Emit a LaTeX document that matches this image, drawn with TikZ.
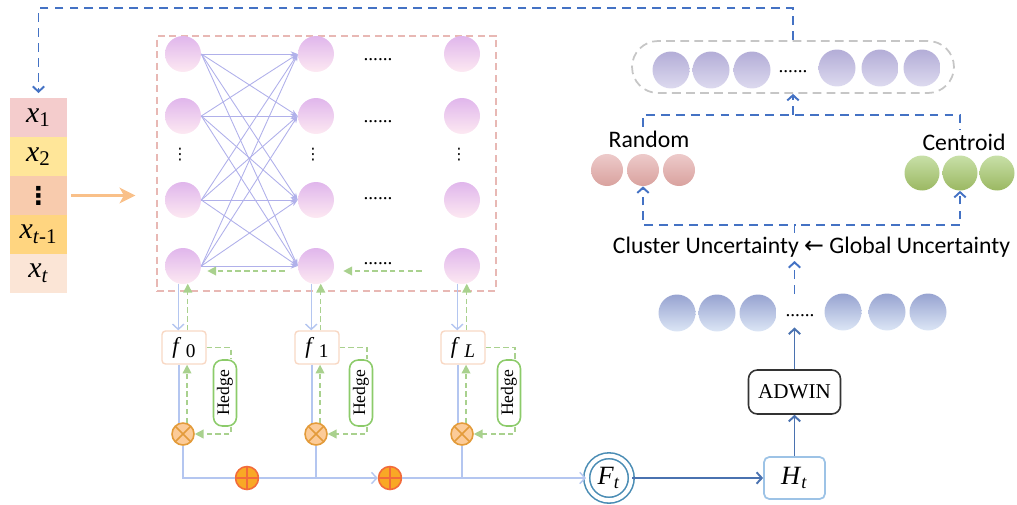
\documentclass[tikz,border=0pt]{standalone}
\usepackage{fontspec}
\setmainfont{Liberation Serif}
\newfontfamily\carlito{Carlito}
\newfontfamily\dejavu{DejaVu Sans}
\usepackage{tikz}
\usetikzlibrary{arrows.meta,positioning,calc}
\definecolor{pblue}{HTML}{4472C4}
\definecolor{pnavy}{HTML}{4A72B0}
\definecolor{plight}{HTML}{B4C6F0}
\definecolor{pnet}{HTML}{B0B0EA}
\definecolor{pgreen}{HTML}{A9D18E}
\definecolor{phedge}{HTML}{8CCB6A}
\definecolor{pframe}{HTML}{E8B8B4}
\definecolor{pfbox}{HTML}{F8D8C4}
\definecolor{pmult}{HTML}{FCCB98}
\definecolor{pmultd}{HTML}{E39B3A}
\definecolor{psum}{HTML}{F9A825}
\definecolor{psumd}{HTML}{F26B3A}
\definecolor{pteal}{HTML}{4A8CB4}
\definecolor{pht}{HTML}{9DC3E6}
\definecolor{porange}{HTML}{F9C089}
\definecolor{pc1}{HTML}{F4CCCC}
\definecolor{pc2}{HTML}{FFE699}
\definecolor{pc3}{HTML}{F8CBAD}
\definecolor{pc4}{HTML}{FFD580}
\definecolor{pc5}{HTML}{FBE5D6}
\definecolor{pneutop}{HTML}{E0B6EC}
\definecolor{pneubot}{HTML}{FDE9F2}
\definecolor{plavtop}{HTML}{B3ADD7}
\definecolor{plavbot}{HTML}{DDDAEF}
\definecolor{pmemtop}{HTML}{97A3D0}
\definecolor{pmembot}{HTML}{DCE6F6}
\definecolor{prndtop}{HTML}{EDCACA}
\definecolor{prndbot}{HTML}{D9A29E}
\definecolor{pcentop}{HTML}{C8E0A8}
\definecolor{pcenmid}{HTML}{8CC63F}
\definecolor{pcenbot}{HTML}{9BB862}
\newcommand{\fsz}[1]{\fontsize{#1}{#1}\selectfont}
\newcommand{\layerno}[1]{\textit{f}\hspace{2.5pt}\raisebox{-2.5pt}{\fsz{11}#1}}

\begin{document}
\begin{tikzpicture}[x=0.02cm,y=-0.02cm,
    >={Straight Barb[length=3pt,width=6.5pt]},
    cell/.style={minimum width=1.14cm,minimum height=0.78cm,inner sep=0,outer sep=0,font=\fsz{17}},
    neuron/.style={circle,minimum size=0.72cm,inner sep=0,top color=pneutop,bottom color=pneubot},
    lav/.style={circle,minimum size=0.74cm,inner sep=0,top color=plavtop,bottom color=plavbot},
    mem/.style={circle,minimum size=0.74cm,inner sep=0,top color=pmemtop,bottom color=pmembot},
    rnd/.style={circle,minimum size=0.64cm,inner sep=0,top color=prndtop,bottom color=prndbot},
    cen/.style={circle,minimum size=0.7cm,inner sep=0,top color=pcentop,middle color=pcenmid,bottom color=pcenbot},
    hdots/.style={inner sep=0,font=\fsz{11}},
    fbox/.style={draw=pfbox,line width=0.8pt,rounded corners=2pt,minimum width=0.88cm,minimum height=0.66cm,inner sep=0,font=\fsz{13}},
    hedgebox/.style={draw=phedge,line width=0.9pt,rounded corners=5pt,rotate=90,minimum width=1.32cm,minimum height=0.46cm,inner sep=0,font=\fsz{10}},
    mult/.style={circle,draw=pmultd,fill=pmult,line width=0.9pt,minimum size=0.44cm,inner sep=0,
      path picture={\draw[pmultd,line width=0.9pt] (path picture bounding box.north west) -- (path picture bounding box.south east)
        (path picture bounding box.north east) -- (path picture bounding box.south west);}},
    addc/.style={circle,draw=psumd,fill=psum,line width=0.9pt,minimum size=0.46cm,inner sep=0,
      path picture={\draw[psumd,line width=1pt] (path picture bounding box.north) -- (path picture bounding box.south)
        (path picture bounding box.west) -- (path picture bounding box.east);}},
    feed/.style={plight,line width=0.8pt},
    gdash/.style={pgreen,line width=0.8pt,dash pattern=on 3pt off 2pt},
    gtip/.style={-{Triangle[length=5pt,width=5pt]}},
    dashb/.style={pblue,line width=1.1pt,dash pattern=on 5pt off 3.5pt},
    navy/.style={pnavy,line width=1.1pt},
    sanslab/.style={font=\carlito\fsz{13.5},inner sep=2pt}]
  \useasboundingbox (0,0) rectangle (1017,504);

  % input window
  \node[cell,fill=pc1] (c1) at (38.5,117.5) {\textit{x}\textsubscript{1}};
  \node[cell,fill=pc2,below=0pt of c1] (c2) {\textit{x}\textsubscript{2}};
  \node[cell,fill=pc3,below=0pt of c2] (c3) {\dejavu\bfseries\fsz{14}⋮};
  \node[cell,fill=pc4,below=0pt of c3] (c4) {\textit{x}\textsubscript{\textit{t}-1}};
  \node[cell,fill=pc5,below=0pt of c4] (c5) {\textit{x}\textsubscript{\textit{t}}};

  % network
  \node[draw=pframe,line width=0.8pt,dash pattern=on 4pt off 2.5pt,minimum width=6.78cm,minimum height=5.1cm] (net) at (326.5,163.5) {};
  \draw[porange,line width=1.3pt,-{Stealth[length=9pt,width=9pt,inset=2.5pt]},shorten <=0.08cm,shorten >=0.42cm] (c3.east) -- (net.west |- c3.east);
  \foreach \ly/\x/\hx/\lab in {0/183/225/0,1/316/361/1,L/462/509/\textit{L}}{
    \foreach \r/\y in {1/54,2/116,3/200,4/266}
      \node[neuron] (n\ly\r) at (\x,\y) {};
    \node[font=\dejavu\fsz{9},inner sep=0] at (\x-3,155) {⋮};
    \node[fbox] (f\ly) at (\x+1,347.5) {\layerno{\lab}};
    \node[hedgebox] (h\ly) at (\hx,393) {Hedge};
    \node[mult] (m\ly) at (\x,434) {};
    \draw[feed,->] (n\ly4.255) -- (n\ly4.255 |- f\ly.north);
    \draw[gdash,gtip] (f\ly.north -| n\ly4.285) -- (n\ly4.285);
    \draw[feed] (m\ly.110 |- f\ly.south) -- (m\ly.110);
    \draw[gdash,gtip] (m\ly.70) -- (m\ly.70 |- f\ly.south);
    \draw[gdash] (f\ly.east) -| ($(h\ly.east)+(6,0)$);
    \draw[gdash,gtip] ($(h\ly.west)+(6,0)$) |- (m\ly.east);
  }
  \foreach \y in {60,122,199,264}
    \node[hdots] at (378,\y) {......};
  \foreach \i in {1,...,4}
    \foreach \j in {1,...,4}
      \draw[pnet,line width=0.5pt,-{Stealth[length=4pt,width=3pt]}] (n0\i.east) -- (n1\j.west);
  \draw[gdash,gtip,shorten <=0.44cm,shorten >=0.18cm] ([yshift=-0.1cm]nL4.west) -- ([yshift=-0.1cm]n14.east);
  \draw[gdash,gtip,shorten <=0.26cm,shorten >=0.12cm] ([yshift=-0.1cm]n14.west) -- ([yshift=-0.1cm]n04.east);

  % ensemble output
  \node[addc] (s1) at (247,478) {};
  \node[addc] (s2) at (390,478) {};
  \node[circle,draw=pteal,double,double distance=2.4pt,line width=0.9pt,minimum size=0.89cm,inner sep=0,font=\fsz{15}] (Ft) at (609,478) {\textit{F}\textsubscript{\textit{t}}};
  \draw[feed] (m0.south) |- (s1.west);
  \draw[feed,->] (s1.east) -- (s2.west);
  \draw[feed] (m1.south) -- (m1.south |- s1.center);
  \draw[feed,->] (s2.east) -- (Ft.west);
  \draw[feed] (mL.south) -- (mL.south |- s2.center);

  \node[draw=pht,line width=1pt,rounded corners=3pt,minimum width=1.22cm,minimum height=0.84cm,font=\fsz{15}] (Ht) at (794.5,478) {\textit{H}\textsubscript{\textit{t}}};
  \node[draw=black!80,line width=0.9pt,rounded corners=5pt,minimum width=1.84cm,minimum height=0.88cm,font=\fsz{12}] (adwin) at (794.5,392) {ADWIN};
  \draw[navy,->] (Ft) -- (Ht);
  \draw[navy,->] (Ht) -- (adwin);

  % uncertainty memory
  \node[mem] (b1) at (677,313) {};
  \node[mem] (b2) at (717,313) {};
  \node[mem] (b3) at (758,313) {};
  \node[hdots] (bd) at (800,316) {......};
  \node[mem] (b4) at (843,312) {};
  \node[mem] (b5) at (887,312) {};
  \node[mem] (b6) at (928,312) {};
  \draw[navy,->,shorten >=0.2cm] (adwin.north) -- (adwin.north |- bd.south);

  \node[sanslab] (unc) at (811.5,247) {Cluster Uncertainty {\dejavu ←} Global Uncertainty};
  \draw[dashb,->] (adwin.north |- b1.north) -- (adwin.north |- unc.south);

  \node[rnd] (r1) at (607,170) {};
  \node[rnd] (r2) at (643,170) {};
  \node[rnd] (r3) at (679,170) {};
  \node[cen] (g1) at (922,173) {};
  \node[cen] (g2) at (960,173) {};
  \node[cen] (g3) at (997,173) {};
  \node[sanslab] (rl) at (649,139) {Random};
  \node[sanslab] (cl) at (964,142) {Centroid};
  \draw[dashb,->] (adwin.north |- unc.north) -- ++(0,-8) -| (r2.south);
  \draw[dashb,->] (adwin.north |- unc.north) -- ++(0,-8) -| (g2.south);

  % selected samples
  \node[draw=gray!45,line width=1pt,dash pattern=on 5pt off 3pt,rounded corners=0.52cm,minimum width=6.44cm,minimum height=1.04cm] (pool) at (793,67) {};
  \node[lav] (q1) at (671,70) {};
  \node[lav] (q2) at (711,70) {};
  \node[lav] (q3) at (752,70) {};
  \node[hdots] (qd) at (793,72) {......};
  \node[lav] (q4) at (837,68) {};
  \node[lav] (q5) at (880,68) {};
  \node[lav] (q6) at (922,68) {};
  \draw[dashb] (r2 |- rl.north) -- ++(0,-12) -| (g2 |- cl.north);
  \draw[dashb,->] ($(pool.south |- rl.north)+(0,-12)$) -- (pool.south);
  \draw[dashb,->,shorten >=0.1cm] (pool.north) -- ++(0,-32) -| (c1.north);
\end{tikzpicture}
\end{document}
